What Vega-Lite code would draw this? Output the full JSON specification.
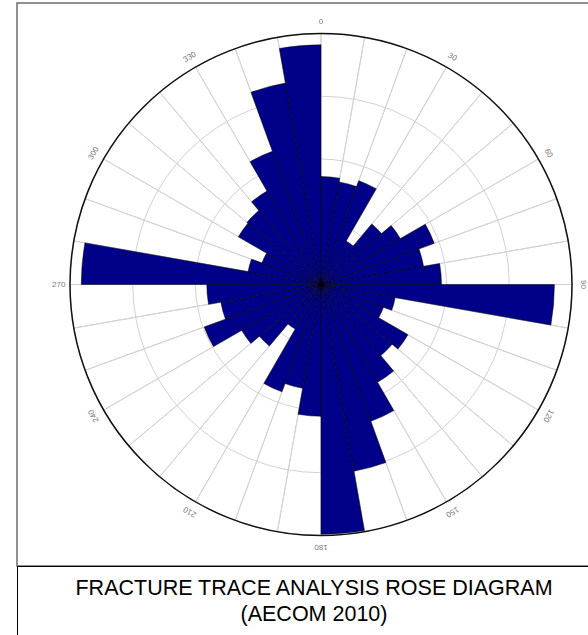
{
  "$schema": "https://vega.github.io/schema/vega-lite/v6.json",
  "background": "white",
  "padding": {"left": 16, "top": 2, "right": 0, "bottom": 0},
  "spacing": 0,
  "bounds": "flush",
  "config": {"font": "Liberation Sans"},
  "datasets": {
    "bins": [
      {"a0": 0, "a1": 10, "n": 8.6},
      {"a0": 10, "a1": 20, "n": 8.3},
      {"a0": 20, "a1": 30, "n": 8.8},
      {"a0": 30, "a1": 40, "n": 4.0},
      {"a0": 40, "a1": 50, "n": 6.3},
      {"a0": 50, "a1": 60, "n": 7.3},
      {"a0": 60, "a1": 70, "n": 9.6},
      {"a0": 70, "a1": 80, "n": 8.3},
      {"a0": 80, "a1": 90, "n": 9.6},
      {"a0": 90, "a1": 100, "n": 18.6},
      {"a0": 100, "a1": 110, "n": 6.0},
      {"a0": 110, "a1": 120, "n": 5.3},
      {"a0": 120, "a1": 130, "n": 8.0},
      {"a0": 130, "a1": 140, "n": 7.4},
      {"a0": 140, "a1": 150, "n": 9.0},
      {"a0": 150, "a1": 160, "n": 11.6},
      {"a0": 160, "a1": 170, "n": 15.1},
      {"a0": 170, "a1": 180, "n": 19.9},
      {"a0": 180, "a1": 190, "n": 10.5},
      {"a0": 190, "a1": 200, "n": 8.4},
      {"a0": 200, "a1": 210, "n": 9.1},
      {"a0": 210, "a1": 220, "n": 4.1},
      {"a0": 220, "a1": 230, "n": 6.4},
      {"a0": 230, "a1": 240, "n": 7.3},
      {"a0": 240, "a1": 250, "n": 9.9},
      {"a0": 250, "a1": 260, "n": 8.1},
      {"a0": 260, "a1": 270, "n": 9.1},
      {"a0": 270, "a1": 280, "n": 19.1},
      {"a0": 280, "a1": 290, "n": 5.9},
      {"a0": 290, "a1": 300, "n": 5.0},
      {"a0": 300, "a1": 310, "n": 7.6},
      {"a0": 310, "a1": 320, "n": 7.7},
      {"a0": 320, "a1": 330, "n": 8.6},
      {"a0": 330, "a1": 340, "n": 11.3},
      {"a0": 340, "a1": 350, "n": 16.3},
      {"a0": 350, "a1": 360, "n": 19.1}
    ],
    "rings": [
      {"ring": 5, "t0": 0, "t1": 360},
      {"ring": 10, "t0": 0, "t1": 360},
      {"ring": 15, "t0": 0, "t1": 360},
      {"ring": 20, "t0": 0, "t1": 360}
    ],
    "labels": [
      {"deg": 0, "label": "0"},
      {"deg": 30, "label": "30"},
      {"deg": 60, "label": "60"},
      {"deg": 90, "label": "90"},
      {"deg": 120, "label": "120"},
      {"deg": 150, "label": "150"},
      {"deg": 180, "label": "180"},
      {"deg": 210, "label": "210"},
      {"deg": 240, "label": "240"},
      {"deg": 270, "label": "270"},
      {"deg": 300, "label": "300"},
      {"deg": 330, "label": "330"}
    ],
    "caption": [
      {"caption": "FRACTURE TRACE ANALYSIS ROSE DIAGRAM\n(AECOM 2010)"}
    ]
  },
  "vconcat": [
    {
      "width": 608,
      "height": 563,
      "view": {"stroke": "#6e6e6e", "strokeWidth": 1.5},
      "resolve": {"scale": {"radius": "shared", "theta": "shared"}},
      "layer": [
        {
          "data": {"name": "bins"},
          "mark": {"type": "arc", "filled": false, "stroke": "#d2d2d2", "strokeWidth": 1},
          "encoding": {
            "theta": {"field": "a0", "type": "quantitative", "stack": null,
              "scale": {"domain": [0, 360], "range": [0, 6.283185307179586]}},
            "theta2": {"field": "a1"},
            "radius": {"datum": 20, "type": "quantitative",
              "scale": {"type": "linear", "domain": [0, 20], "range": [0, 251]}}
          }
        },
        {
          "data": {"name": "rings"},
          "transform": [{"filter": "datum.ring < 20"}],
          "mark": {"type": "arc", "filled": false, "stroke": "#d2d2d2", "strokeWidth": 1},
          "encoding": {
            "theta": {"field": "t0", "type": "quantitative", "stack": null,
              "scale": {"domain": [0, 360], "range": [0, 6.283185307179586]}},
            "theta2": {"field": "t1"},
            "radius": {"field": "ring", "type": "quantitative",
              "scale": {"type": "linear", "domain": [0, 20], "range": [0, 251]}}
          }
        },
        {
          "data": {"name": "bins"},
          "mark": {"type": "arc", "fill": "#000088", "stroke": "#000000", "strokeWidth": 0.5},
          "encoding": {
            "theta": {"field": "a0", "type": "quantitative", "stack": null,
              "scale": {"domain": [0, 360], "range": [0, 6.283185307179586]}},
            "theta2": {"field": "a1"},
            "radius": {"field": "n", "type": "quantitative",
              "scale": {"type": "linear", "domain": [0, 20], "range": [0, 251]}}
          }
        },
        {
          "data": {"name": "rings"},
          "transform": [{"filter": "datum.ring === 20"}],
          "mark": {"type": "arc", "filled": false, "stroke": "#111111", "strokeWidth": 1.5},
          "encoding": {
            "theta": {"field": "t0", "type": "quantitative", "stack": null,
              "scale": {"domain": [0, 360], "range": [0, 6.283185307179586]}},
            "theta2": {"field": "t1"},
            "radius": {"field": "ring", "type": "quantitative",
              "scale": {"type": "linear", "domain": [0, 20], "range": [0, 251]}}
          }
        },
        {
          "data": {"name": "labels"},
          "mark": {"type": "text", "fontSize": 8, "color": "#777777", "align": "center", "baseline": "middle"},
          "encoding": {
            "theta": {"field": "deg", "type": "quantitative", "stack": null,
              "scale": {"domain": [0, 360], "range": [0, 6.283185307179586]}},
            "radius": {"datum": 20.9, "type": "quantitative",
              "scale": {"type": "linear", "domain": [0, 20], "range": [0, 251]}},
            "angle": {
              "condition": {"test": "datum.deg === 270", "value": 0},
              "field": "deg", "type": "quantitative",
              "scale": {"domain": [0, 360], "range": [0, 360]}
            },
            "text": {"field": "label"}
          }
        }
      ]
    },
    {
      "width": 594,
      "height": 80,
      "view": {"stroke": "#000000", "strokeWidth": 1},
      "data": {"name": "caption"},
      "mark": {"type": "text", "fontSize": 21.5, "lineBreak": "\n", "lineHeight": 26, "dy": -17.5, "color": "#000000", "align": "center", "baseline": "middle"},
      "encoding": {
        "text": {"field": "caption"}
      }
    }
  ]
}
